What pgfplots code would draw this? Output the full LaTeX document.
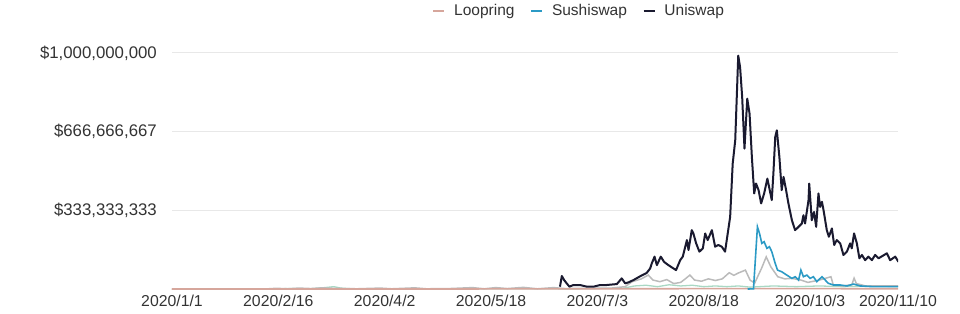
\documentclass[border=0pt]{standalone}
\usepackage{pgfplots}
\pgfplotsset{compat=1.18}
\usepackage{fontspec}
\setmainfont{Liberation Sans}

\definecolor{cUni}{HTML}{1A1A30}
\definecolor{cSushi}{HTML}{2B9AC5}
\definecolor{cLoop}{HTML}{D6A69C}
\definecolor{cOtherA}{HTML}{BBBBBB}
\definecolor{cOtherB}{HTML}{A9D8C4}
\definecolor{cGrid}{HTML}{E8E8E8}
\definecolor{cTxt}{HTML}{333333}

\begin{document}
\begin{tikzpicture}
\path[use as bounding box] (-172pt,-23.5pt) rectangle (788pt,289.5pt);
\begin{axis}[
  at={(0pt,0pt)}, anchor=south west,
  scale only axis, width=726pt, height=236.5pt,
  xmin=0, xmax=314, ymin=0, ymax=1000,
  axis line style={draw=none}, tick style={draw=none},
  major tick length=0pt,
  ymajorgrids, grid style={cGrid, line width=1pt},
  ytick={333.333,666.667,1000},
  yticklabels={{\$333,333,333},{\$666,666,667},{\$1,000,000,000}},
  xtick={0,46,92,138,184,230,276,314},
  xticklabels={2020/1/1,2020/2/16,2020/4/2,2020/5/18,2020/7/3,2020/8/18,2020/10/3,2020/11/10},
  yticklabel style={font=\fontsize{16.8}{19}\selectfont, text=cTxt, inner sep=0pt, anchor=east, xshift=-15pt},
  xticklabel style={font=\fontsize{15.8}{18}\selectfont, text=cTxt, inner sep=0pt, anchor=north, yshift=-5pt},
  legend style={draw=none, fill=none, at={(0.561,1.178)}, anchor=center,
    font=\fontsize{15.5}{18}\selectfont, text=cTxt,
    legend columns=3,
    /tikz/every odd column/.append style={column sep=7pt},
    /tikz/every even column/.append style={column sep=14pt}},
  legend image code/.code={\draw[#1, line width=1.5pt] (0pt,0pt) -- (11pt,0pt);},
]
% minor exchanges, no legend entry
\addplot[cOtherB, line width=1.3pt, forget plot] coordinates {
(0,1)(40,1)(50,4)(60,3)(66,8)(70,12)(73,6)(78,3)(90,2)(130,3)(166,3)(170,2)(195,5)(200,15)(205,18)(210,12)(215,20)(220,15)(225,18)(230,12)(235,15)(240,12)(245,15)(250,10)(260,15)(270,12)(280,15)(290,12)(300,14)(314,13)};
\addplot[cOtherA, line width=1.5pt, forget plot] coordinates {
(0,2)(40,2)(45,5)(50,3)(55,6)(60,4)(65,7)(70,5)(75,4)(80,3)(90,6)(95,3)(105,7)(110,3)(120,4)(130,8)(135,3)(140,8)(145,4)(152,9)(158,3)(165,8)(170,4)(180,5)(190,6)(196,12)(199,33)(203,45)(206,61)(208,40)(211,33)(214,42)(217,25)(220,30)(222,45)(224,61)(226,40)(229,35)(232,45)(235,38)(238,45)(241,71)(243,60)(245,70)(248,82)(250,40)(252,27)(255,90)(257,138)(259,96)(262,54)(265,45)(268,47)(272,40)(275,30)(280,40)(285,54)(286,19)(290,15)(294,20)(295,48)(296,25)(300,15)(314,15)};
% Loopring
\addplot[cLoop, line width=1.6pt] coordinates {
(0,2)(100,2)(200,3)(250,4)(314,3)};
\addlegendentry{Loopring}
% Sushiswap
\addplot[cSushi, line width=1.6pt] coordinates {
(249,2)(251.5,3)(253.2,265)(254.1,237)(255.1,195)(256.1,202)(257.3,174)(258.4,181)(259.4,160)(260.9,110)(261.9,82)(263.7,75)(265.9,61)(268.1,47)(269.5,54)(271.0,40)(272.0,82)(273.1,54)(274.6,61)(276.0,47)(277.4,54)(278.9,33)(281.1,54)(282.5,40)(283.9,26)(286.1,19)(289.0,19)(291.9,15)(294.8,23)(297.6,15)(303.4,12)(314.2,12)};
\addlegendentry{Sushiswap}
% Uniswap
\addplot[cUni, line width=2pt, line join=round] coordinates {
(167.8,12)(168.6,57)(169.6,40)(170.7,26)(171.9,12)(173.6,19)(176.5,19)(179.4,12)(182.3,12)(185.2,19)(188.0,19)(192.4,23)(194.5,47)(196.0,26)(197.4,30)(199.6,40)(202.5,56)(205.3,70)(206.8,89)(207.5,110)(208.7,139)(209.7,103)(211.4,139)(212.8,117)(214.7,103)(216.9,89)(218.0,82)(219.8,124)(220.9,139)(222.7,209)(223.4,167)(224.8,251)(225.5,237)(226.7,195)(228.1,160)(229.6,174)(230.6,237)(231.7,209)(233.5,251)(234.9,181)(236.3,188)(237.8,181)(239.2,160)(241.4,307)(242.5,532)(243.6,631)(244.9,989)(245.7,940)(246.6,814)(247.6,596)(248.8,807)(249.8,743)(250.8,560)(251.8,406)(252.6,448)(253.7,420)(254.8,364)(256.1,406)(257.5,469)(259.4,378)(260.1,490)(260.9,645)(261.6,673)(262.7,560)(263.7,420)(264.5,476)(265.6,420)(266.6,364)(268.1,293)(269.5,251)(271.0,265)(272.4,279)(273.1,314)(273.8,279)(275.3,378)(275.6,448)(276.7,293)(277.7,328)(278.6,265)(279.6,406)(280.3,349)(281.1,371)(281.8,335)(283.2,251)(284.1,223)(285.4,258)(286.4,188)(287.5,209)(289.0,195)(290.4,146)(291.9,160)(293.3,195)(294.0,174)(295.0,237)(296.2,195)(297.3,132)(298.4,146)(299.8,124)(301.2,139)(302.7,124)(304.1,146)(305.6,132)(309.2,153)(310.6,124)(312.8,139)(314.2,117)};
\addlegendentry{Uniswap}
\end{axis}
\end{tikzpicture}
\end{document}
